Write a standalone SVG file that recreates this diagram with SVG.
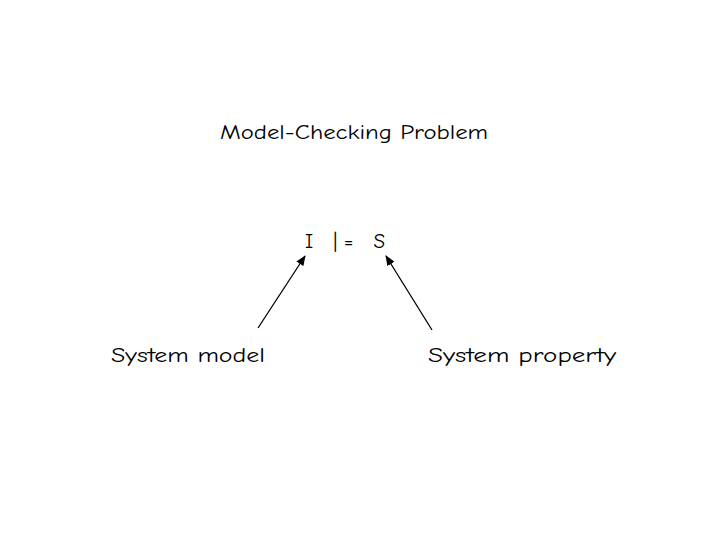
<svg xmlns="http://www.w3.org/2000/svg" width="720" height="540" viewBox="0 0 720 540">
<style>
text{font-family:"Comic Neue","DejaVu Sans","Liberation Sans",sans-serif;font-size:21px;fill:#000}
.c line{stroke:#000;stroke-width:1.3}
</style>
<defs><marker id="a" viewBox="0 0 10 10" refX="9" refY="5" markerWidth="8" markerHeight="8" orient="auto"><path d="M0,1 L10,5 L0,9 z" fill="#000"/></marker></defs>
<rect width="720" height="540" fill="#fff"/>
<g id="title"><text x="354" y="139" text-anchor="middle" textLength="268" lengthAdjust="spacingAndGlyphs">Model-Checking Problem</text></g>
<g id="formula"><text x="345" y="248" text-anchor="middle" textLength="80" lengthAdjust="spacing">I |= S</text></g>
<g id="model"><text x="188" y="362" text-anchor="middle" textLength="154" lengthAdjust="spacingAndGlyphs">System model</text></g>
<g id="property"><text x="522" y="362" text-anchor="middle" textLength="188" lengthAdjust="spacingAndGlyphs">System property</text></g>
<g class="c">
<line x1="258" y1="328" x2="305" y2="256" marker-end="url(#a)"/>
<line x1="432" y1="330" x2="386" y2="256" marker-end="url(#a)"/>
</g>
</svg>
